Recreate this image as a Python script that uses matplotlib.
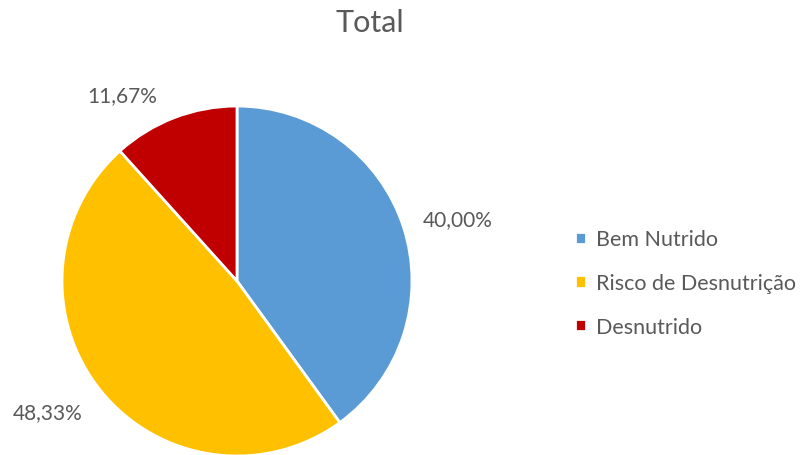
import matplotlib
matplotlib.use("Agg")
import matplotlib.pyplot as plt
import numpy as np

plt.rcParams['font.family'] = ['Lato', 'DejaVu Sans']

categories = ['Bem Nutrido', 'Risco de Desnutrição', 'Desnutrido']
values = [40.00, 48.33, 11.67]
colors = ['#5B9BD5', '#FFC000', '#C00000']
text_color = '#595959'

fig = plt.figure(figsize=(8, 4.56), dpi=100)
fig.text(0.4625, 0.95, 'Total', ha='center', va='center', fontsize=22, color=text_color)

ax = fig.add_axes([0.0775, -0.0022, 0.4375, 0.7675])
wedges, _ = ax.pie(values, colors=colors, startangle=90, counterclock=False,
                   wedgeprops=dict(edgecolor='white', linewidth=2), radius=1.0)
ax.set_xlim(-1, 1)
ax.set_ylim(-1, 1)
ax.set_aspect('equal')

# label placement (Excel "best fit" style)
label_r = [1.31, 1.315, 1.25]
label_shift = [-2.3, -4.3, 10.7]
for w, v, r, s in zip(wedges, values, label_r, label_shift):
    ang = np.deg2rad((w.theta1 + w.theta2) / 2 + s)
    ax.text(r * np.cos(ang), r * np.sin(ang), f'{v:.2f}%'.replace('.', ','),
            ha='center', va='center', fontsize=15, color=text_color, clip_on=False)

leg = fig.legend(wedges, categories, loc='center left', bbox_to_anchor=(0.695, 0.377),
                 frameon=False, fontsize=15.5, labelcolor=text_color,
                 handlelength=0.5, handleheight=0.5, handletextpad=0.45, labelspacing=1.1)

fig.savefig('out.png', dpi=100)
